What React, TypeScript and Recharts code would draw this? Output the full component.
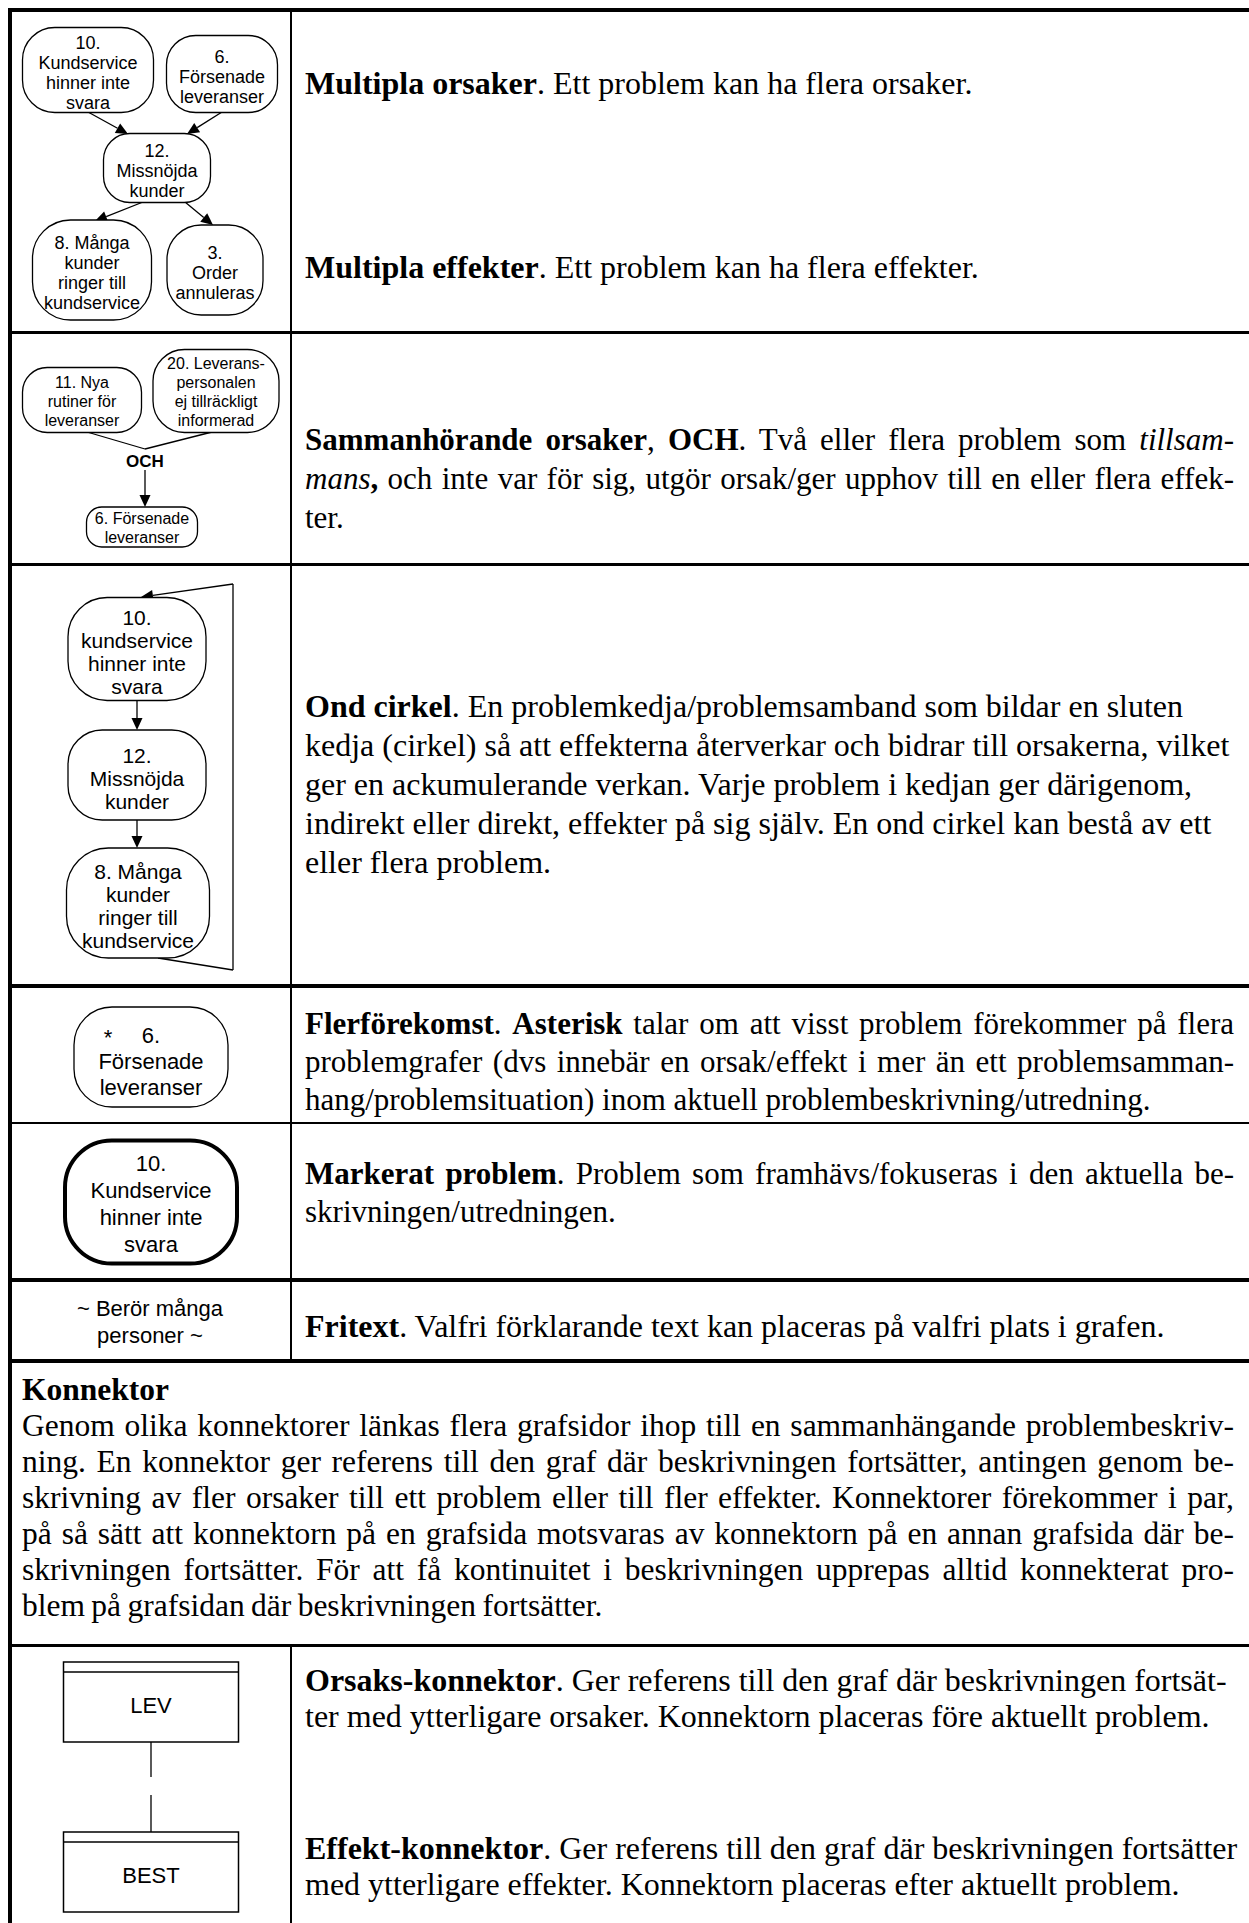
import React from 'react';
import { ScatterChart, Scatter, XAxis, YAxis, ReferenceLine } from 'recharts';

// Page / left column geometry (the diagrams use page pixels as data units)
const PAGE_W = 1249;
const PAGE_H = 1923;
const COL_X0 = 12;
const COL_X1 = 291;
const COL_Y0 = 12;

// Row 1: multipla orsaker / effekter
const multiNodes = [
  { x: 88, y: 70, w: 131, h: 85, lines: ['10.', 'Kundservice', 'hinner inte', 'svara'] },
  { x: 222, y: 74, w: 111, h: 77, lines: ['6.', 'Försenade', 'leveranser'] },
  { x: 157, y: 168, w: 107, h: 69, lines: ['12.', 'Missnöjda', 'kunder'] },
  { x: 92, y: 270, w: 119, h: 100, lines: ['8. Många', 'kunder', 'ringer till', 'kundservice'] },
  { x: 215, y: 270, w: 96, h: 90, lines: ['3.', 'Order', 'annuleras'] },
];
const multiArrows = [
  { x1: 88, y1: 112, x2: 128, y2: 134 },
  { x1: 222, y1: 112, x2: 187, y2: 134 },
  { x1: 143, y1: 202, x2: 95, y2: 221 },
  { x1: 185, y1: 202, x2: 213, y2: 225 },
];

// Row 2: sammanhörande orsaker (OCH)
const andNodes = [
  { x: 82, y: 400, w: 119, h: 65, lines: ['11. Nya', 'rutiner för', 'leveranser'] },
  { x: 216, y: 391, w: 126, h: 83, lines: ['20. Leverans-', 'personalen', 'ej tillräckligt', 'informerad'] },
  { x: 142, y: 527, w: 111, h: 40, lines: ['6. Försenade', 'leveranser'] },
];
const andJoins = [
  { x1: 87, y1: 432, x2: 145, y2: 449 },
  { x1: 212, y1: 432, x2: 145, y2: 449 },
];
const andLabel = [{ x: 145, y: 461, lines: ['OCH'] }];
const andArrows = [{ x1: 145, y1: 470, x2: 145, y2: 507 }];

// Row 3: ond cirkel
const circleNodes = [
  { x: 137, y: 649, w: 138, h: 103, lines: ['10.', 'kundservice', 'hinner inte', 'svara'] },
  { x: 137, y: 775, w: 138, h: 90, lines: ['12.', 'Missnöjda', 'kunder'] },
  { x: 138, y: 903, w: 143, h: 110, lines: ['8. Många', 'kunder', 'ringer till', 'kundservice'] },
];
const circleArrows = [
  { x1: 137, y1: 700, x2: 137, y2: 730 },
  { x1: 137, y1: 820, x2: 137, y2: 848 },
  { x1: 233, y1: 584, x2: 141, y2: 597 },
];
const circleReturn = [
  { x1: 158, y1: 958, x2: 233, y2: 970 },
  { x1: 233, y1: 970, x2: 233, y2: 584 },
];

// Row 4-6: flerförekomst, markerat problem, fritext
const starNodes = [{ x: 151, y: 1057, w: 154, h: 100, lines: ['6.', 'Försenade', 'leveranser'] }];
const markedNodes = [{ x: 151, y: 1202, w: 172, h: 123, lines: ['10.', 'Kundservice', 'hinner inte', 'svara'] }];
const freeText = [{ x: 150, y: 1322, lines: ['~ Berör många', 'personer ~'] }];

// Row 8: konnektorer
const connectorBoxes = [
  { x: 151, y: 1702, w: 175, h: 80, lines: ['LEV'] },
  { x: 151, y: 1872, w: 175, h: 80, lines: ['BEST'] },
];
const connectorLinks = [
  { x1: 151, y1: 1742, x2: 151, y2: 1777 },
  { x1: 151, y1: 1795, x2: 151, y2: 1832 },
];

const sans = '"Liberation Sans", Arial, sans-serif';
const serif = '"Liberation Serif", "Times New Roman", serif';
const EDGE = 1.3;

const labelLines = (lines: string[], cx: number, cy: number, size: number, lh: number, weight = 400) => (
  <text textAnchor="middle" fontFamily={sans} fontSize={size} fontWeight={weight} fill="#000">
    {lines.map((l, i) => (
      <tspan key={i} x={cx} y={cy + (i - (lines.length - 1) / 2) * lh + size * 0.36}>{l}</tspan>
    ))}
  </text>
);

const nodeShape = (size: number, lh: number, dy: number, stroke = EDGE, star = false) => (props: any) => {
  const { cx, cy, payload } = props;
  const { w, h, lines } = payload;
  const r = Math.min(w, h) * 0.38;
  const firstY = cy + dy - ((lines.length - 1) / 2) * lh + size * 0.36;
  return (
    <g>
      <rect x={cx - w / 2} y={cy - h / 2} width={w} height={h} rx={r} ry={r} fill="#fff" stroke="#000" strokeWidth={stroke} />
      {labelLines(lines, cx, cy + dy, size, lh)}
      {star && <text x={cx - 43} y={firstY + 2} textAnchor="middle" fontFamily={sans} fontSize={size} fill="#000">*</text>}
    </g>
  );
};

const textShape = (size: number, lh: number, weight = 400) => (props: any) => {
  const { cx, cy, payload } = props;
  return labelLines(payload.lines, cx, cy, size, lh, weight);
};

const boxShape = (props: any) => {
  const { cx, cy, payload } = props;
  const { w, h, lines } = payload;
  const top = cy - h / 2;
  return (
    <g>
      <rect x={cx - w / 2} y={top} width={w} height={h} fill="#fff" stroke="#000" strokeWidth={1.5} />
      <line x1={cx - w / 2} y1={top + 10} x2={cx + w / 2} y2={top + 10} stroke="#000" strokeWidth={1.5} />
      {labelLines(lines, cx, cy + 3, 22, 26)}
    </g>
  );
};

const arrowShape = (props: any) => {
  const { x1, y1, x2, y2 } = props;
  const dx = x2 - x1;
  const dy = y2 - y1;
  const len = Math.hypot(dx, dy) || 1;
  const ux = dx / len;
  const uy = dy / len;
  const L = 12;
  const W = 5.5;
  const bx = x2 - ux * L;
  const by = y2 - uy * L;
  const pts = `${x2},${y2} ${bx - uy * W},${by + ux * W} ${bx + uy * W},${by - ux * W}`;
  return (
    <g>
      <line x1={x1} y1={y1} x2={bx} y2={by} stroke="#000" strokeWidth={EDGE} />
      <polygon points={pts} fill="#000" />
    </g>
  );
};

const plainShape = (props: any) => (
  <line x1={props.x1} y1={props.y1} x2={props.x2} y2={props.y2} stroke="#000" strokeWidth={EDGE} />
);

const seg = (s: { x1: number; y1: number; x2: number; y2: number }) => [
  { x: s.x1, y: s.y1 },
  { x: s.x2, y: s.y2 },
];

function Diagrams() {
  const w = COL_X1 - COL_X0;
  const h = PAGE_H - COL_Y0;
  const arrows = [...multiArrows, ...andArrows, ...circleArrows];
  const plain = [...andJoins, ...circleReturn, ...connectorLinks];
  return (
    <ScatterChart width={w} height={h} margin={{ top: 0, right: 0, bottom: 0, left: 0 }}
      style={{ position: 'absolute', left: COL_X0, top: COL_Y0 }}>
      <XAxis type="number" dataKey="x" domain={[COL_X0, COL_X1]} hide />
      <YAxis type="number" dataKey="y" domain={[COL_Y0, PAGE_H]} reversed hide />
      {plain.map((s, i) => (
        <ReferenceLine key={`p${i}`} segment={seg(s)} shape={plainShape} />
      ))}
      {arrows.map((s, i) => (
        <ReferenceLine key={`a${i}`} segment={seg(s)} shape={arrowShape} />
      ))}
      <Scatter data={multiNodes} shape={nodeShape(18, 20, 3)} isAnimationActive={false} />
      <Scatter data={andNodes} shape={nodeShape(16, 19, 1)} isAnimationActive={false} />
      <Scatter data={andLabel} shape={textShape(17, 19, 700)} isAnimationActive={false} />
      <Scatter data={circleNodes} shape={nodeShape(21, 23, 3)} isAnimationActive={false} />
      <Scatter data={starNodes} shape={nodeShape(22, 26, 4, EDGE, true)} isAnimationActive={false} />
      <Scatter data={markedNodes} shape={nodeShape(22, 27, 2, 4)} isAnimationActive={false} />
      <Scatter data={freeText} shape={textShape(22, 27)} isAnimationActive={false} />
      <Scatter data={connectorBoxes} shape={boxShape} isAnimationActive={false} />
    </ScatterChart>
  );
}

const HLINES: [number, number][] = [
  [331, 3], [563, 3], [984, 4], [1122, 2], [1278, 4], [1359, 4], [1644, 3],
];

const J = ({ children }: { children: React.ReactNode }) => (
  <div style={{ textAlign: 'justify', textAlignLast: 'justify' }}>{children}</div>
);
const Lft = ({ children }: { children: React.ReactNode }) => <div style={{ whiteSpace: 'nowrap' }}>{children}</div>;

const Block = ({ left = 305, top, width = 929, lh = 38, size = 32, ws = 0, children }: any) => (
  <div style={{ position: 'absolute', left, top, width, fontFamily: serif, fontSize: size, wordSpacing: ws, lineHeight: `${lh}px`, color: '#000' }}>
    {children}
  </div>
);

export default function App() {
  return (
    <div style={{ position: 'absolute', left: 0, top: 0, width: PAGE_W, height: PAGE_H, overflow: 'hidden', background: '#fff' }}>
      {/* outer frame: right and bottom edges fall outside the page */}
      <div style={{ position: 'absolute', left: 8, top: 8, width: 1270, height: 2000, border: '4px solid #000', boxSizing: 'border-box' }} />
      {HLINES.map(([y, t]) => (
        <div key={y} style={{ position: 'absolute', left: 12, top: y, width: PAGE_W, height: t, background: '#000' }} />
      ))}
      <div style={{ position: 'absolute', left: 290, top: 12, width: 2, height: 1347, background: '#000' }} />
      <div style={{ position: 'absolute', left: 290, top: 1647, width: 2, height: 300, background: '#000' }} />

      <Diagrams />

      <Block top={64}>
        <Lft><b>Multipla orsaker</b>. Ett problem kan ha flera orsaker.</Lft>
      </Block>
      <Block top={248}>
        <Lft><b>Multipla effekter</b>. Ett problem kan ha flera effekter.</Lft>
      </Block>
      <Block top={420} lh={39} size={31}>
        <J><b>Sammanhörande orsaker</b>, <b>OCH</b>. Två eller flera problem som <i>tillsam-</i></J>
        <J><i>mans</i><b>,</b> och inte var för sig, utgör orsak/ger upphov till en eller flera effek-</J>
        <Lft>ter.</Lft>
      </Block>
      <Block top={687} lh={39}>
        <Lft><b>Ond cirkel</b>. En problemkedja/problemsamband som bildar en sluten</Lft>
        <Lft>kedja (cirkel) så att effekterna återverkar och bidrar till orsakerna, vilket</Lft>
        <Lft>ger en ackumulerande verkan. Varje problem i kedjan ger därigenom,</Lft>
        <Lft>indirekt eller direkt, effekter på sig själv. En ond cirkel kan bestå av ett</Lft>
        <Lft>eller flera problem.</Lft>
      </Block>
      <Block top={1005} size={31}>
        <J><b>Flerförekomst</b>. <b>Asterisk</b> talar om att visst problem förekommer på flera</J>
        <J>problemgrafer (dvs innebär en orsak/effekt i mer än ett problemsamman-</J>
        <Lft>hang/problemsituation) inom aktuell problembeskrivning/utredning.</Lft>
      </Block>
      <Block top={1155} size={31}>
        <J><b>Markerat problem</b>. Problem som framhävs/fokuseras i den aktuella be-</J>
        <Lft>skrivningen/utredningen.</Lft>
      </Block>
      <Block top={1307}>
        <Lft><b>Fritext</b>. Valfri förklarande text kan placeras på valfri plats i grafen.</Lft>
      </Block>
      <Block left={22} width={1212} top={1372} lh={36} size={31.5} ws={-1.5}>
        <Lft><b>Konnektor</b></Lft>
        <J>Genom olika konnektorer länkas flera grafsidor ihop till en sammanhängande problembeskriv-</J>
        <J>ning. En konnektor ger referens till den graf där beskrivningen fortsätter, antingen genom be-</J>
        <J>skrivning av fler orsaker till ett problem eller till fler effekter. Konnektorer förekommer i par,</J>
        <J>på så sätt att konnektorn på en grafsida motsvaras av konnektorn på en annan grafsida där be-</J>
        <J>skrivningen fortsätter. För att få kontinuitet i beskrivningen upprepas alltid konnekterat pro-</J>
        <Lft>blem på grafsidan där beskrivningen fortsätter.</Lft>
      </Block>
      <Block top={1662} lh={36}>
        <Lft><b>Orsaks-konnektor</b>. Ger referens till den graf där beskrivningen fortsät-</Lft>
        <Lft>ter med ytterligare orsaker. Konnektorn placeras före aktuellt problem.</Lft>
      </Block>
      <Block top={1830} lh={36}>
        <Lft><b>Effekt-konnektor</b>. Ger referens till den graf där beskrivningen fortsätter</Lft>
        <Lft>med ytterligare effekter. Konnektorn placeras efter aktuellt problem.</Lft>
      </Block>
    </div>
  );
}
